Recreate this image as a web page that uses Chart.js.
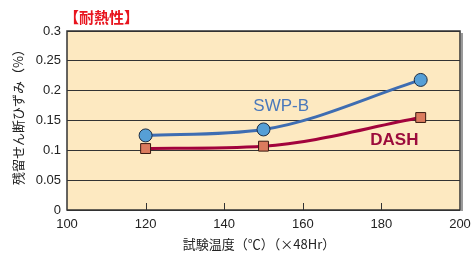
<!DOCTYPE html>
<html>
<head>
<meta charset="utf-8">
<script src="https://cdn.jsdelivr.net/npm/chart.js@4"></script>
<style>
  html, body { margin: 0; padding: 0; background: #fff; }
  #wrap { width: 473px; height: 255px; }
</style>
</head>
<body>
<div id="wrap"><canvas id="c" width="473" height="255"></canvas></div>
<script>
const temps = [120, 150, 190];
const swpb = [0.125, 0.135, 0.218];
const dash = [0.103, 0.107, 0.155];
const xTicks = [100, 120, 140, 160, 180, 200];
const yTicks = [0, 0.05, 0.1, 0.15, 0.2, 0.25, 0.3];
const seriesNames = ['SWP-B', 'DASH'];
const labelAt = [[154.5, 0.174], [183.3, 0.117]];

const jp = '"Noto Sans CJK JP", sans-serif';
const num = '"Liberation Sans", Arial, sans-serif';

// frame, inner x ticks, series labels and titles
const decor = {
  id: 'decor',
  beforeDatasetsDraw(chart) {
    const {ctx, chartArea: a, scales: {x}} = chart;
    ctx.save();
    ctx.strokeStyle = '#333';
    ctx.lineWidth = 1;
    xTicks.slice(1, -1).forEach(v => {
      const px = Math.round(x.getPixelForValue(v)) + 0.5;
      ctx.beginPath();
      ctx.moveTo(px, a.bottom);
      ctx.lineTo(px, a.bottom - 7);
      ctx.stroke();
    });
    // right shadow
    ctx.strokeStyle = '#9a9a9a';
    ctx.lineWidth = 2;
    ctx.beginPath();
    ctx.moveTo(a.right + 2, a.top + 2);
    ctx.lineTo(a.right + 2, a.bottom + 1);
    ctx.stroke();
    ctx.strokeStyle = '#333';
    ctx.lineWidth = 1.5;
    ctx.strokeRect(a.left, a.top, a.right - a.left, a.bottom - a.top);
    ctx.restore();
  },
  afterDraw(chart) {
    const {ctx, scales: {x, y}} = chart;
    ctx.save();
    ctx.textAlign = 'center';
    ctx.textBaseline = 'middle';
    ctx.font = '17px ' + num;
    ctx.fillStyle = '#4a78bb';
    ctx.fillText(seriesNames[0], x.getPixelForValue(labelAt[0][0]), y.getPixelForValue(labelAt[0][1]));
    ctx.font = 'bold 17px ' + num;
    ctx.fillStyle = '#9c0c3c';
    ctx.fillText(seriesNames[1], x.getPixelForValue(labelAt[1][0]), y.getPixelForValue(labelAt[1][1]));

    ctx.font = 'bold 15px ' + jp;
    ctx.fillStyle = '#e8141e';
    ctx.textAlign = 'left';
    ctx.fillText('【耐熱性】', 64, 17);

    ctx.font = '13px ' + jp;
    ctx.fillStyle = '#222';
    ctx.textAlign = 'center';
    ctx.fillText('試験温度（℃）（×48Hr）', 259, 244);

    ctx.translate(18, 114);
    ctx.rotate(-Math.PI / 2);
    ctx.fillText('残留せん断ひずみ（%）', 0, 0);
    ctx.restore();
  }
};

const bg = {
  id: 'bg',
  beforeDraw(chart) {
    const {ctx, chartArea: a} = chart;
    ctx.save();
    ctx.fillStyle = '#fde9c1';
    ctx.fillRect(a.left, a.top, a.right - a.left, a.bottom - a.top);
    ctx.restore();
  }
};

new Chart(document.getElementById('c'), {
  type: 'line',
  data: {
    datasets: [
      {
        label: seriesNames[0],
        data: temps.map((t, i) => ({x: t, y: swpb[i]})),
        borderColor: '#3e6db2',
        borderWidth: 3,
        backgroundColor: '#569fd6',
        pointBorderColor: '#1f2f45',
        pointBorderWidth: 1,
        pointStyle: 'circle',
        pointRadius: 6.5,
        cubicInterpolationMode: 'monotone',
        fill: false
      },
      {
        label: seriesNames[1],
        data: temps.map((t, i) => ({x: t, y: dash[i]})),
        borderColor: '#a2033c',
        borderWidth: 3,
        backgroundColor: '#db7b5e',
        pointBorderColor: '#3a1a12',
        pointBorderWidth: 1,
        pointStyle: 'rect',
        pointRadius: 7,
        cubicInterpolationMode: 'monotone',
        fill: false
      }
    ]
  },
  options: {
    responsive: false,
    animation: false,
    layout: {padding: {left: 0, top: 31, right: 0, bottom: 0}},
    plugins: {
      legend: {display: false},
      tooltip: {enabled: false}
    },
    scales: {
      x: {
        type: 'linear',
        min: 100,
        max: 200,
        afterBuildTicks: s => { s.ticks = xTicks.map(v => ({value: v})); },
        afterFit: s => { s.height = 45; s.paddingRight = 13; s.paddingLeft = 0; },
        grid: {display: false, drawTicks: false},
        border: {display: false},
        ticks: {
          padding: 7,
          color: '#222',
          font: {family: num, size: 13}
        }
      },
      y: {
        min: 0,
        max: 0.3,
        afterBuildTicks: s => { s.ticks = yTicks.map(v => ({value: v})); },
        afterFit: s => { s.width = 67; },
        grid: {color: '#333', lineWidth: 1, drawTicks: false},
        border: {display: false},
        ticks: {
          padding: 6,
          color: '#222',
          font: {family: num, size: 13},
          callback: v => String(+v.toFixed(2))
        }
      }
    }
  },
  plugins: [bg, decor]
});
</script>
</body>
</html>
